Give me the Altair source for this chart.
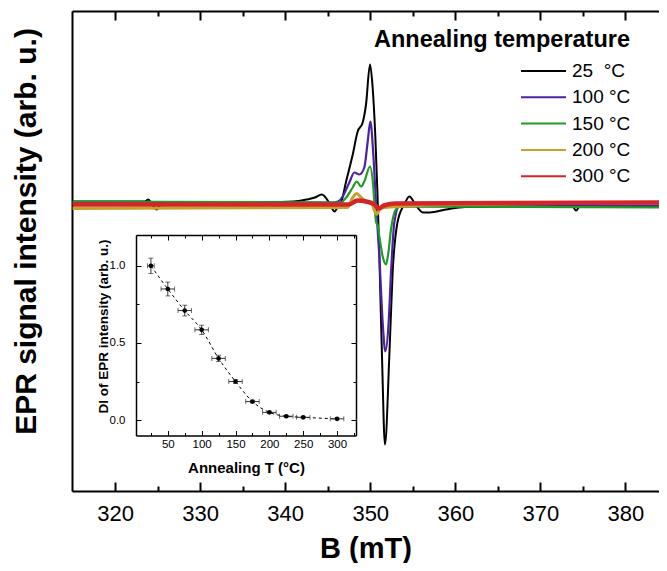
import altair as alt
import pandas as pd

FONT = "Liberation Sans"

# ---------------- main EPR spectra: B (mT) and intensity (arb. u.) ----------------
B_25 = [315.0, 323.5, 323.9, 324.3, 324.9, 325.4, 335.0, 341.0, 342.5, 343.5, 344.3, 345.0,
        345.5, 345.8, 346.2, 346.6, 347.16, 347.94, 348.52, 349.11, 349.5, 349.97, 350.28,
        350.6, 350.85, 351.07, 351.38, 351.73, 352.24, 352.63, 353.2, 354.0, 354.6, 355.3,
        356.2, 357.0, 358.9, 361.2, 373.8, 374.2, 374.6, 385.0]
I_25 = [0.03, 0.03, 0.05, 0.01, -0.05, 0.0, 0.02, 0.03, 0.05, 0.07, 0.10, 0.04,
        -0.04, -0.07, -0.02, 0.03, 0.23, 0.50, 0.73, 0.82, 1.00, 1.40, 1.17,
        0.67, 0.10, -0.52, -1.52, -2.40, -1.52, -0.68, -0.18, 0.0, 0.08, 0.0,
        -0.08, -0.08, -0.05, -0.025, -0.025, -0.06, -0.025, -0.02]

B_100 = [315.0, 345.6, 346.2, 346.76, 347.54, 348.13, 348.72, 349.3, 349.7, 350.01, 350.36,
         350.68, 351.07, 351.46, 351.77, 352.16, 352.44, 352.83, 353.4, 385.0]
I_100 = [0.02, 0.02, 0.03, 0.08, 0.22, 0.32, 0.30, 0.37, 0.63, 0.83, 0.50,
         0.0, -0.52, -1.18, -1.47, -1.18, -0.68, -0.18, -0.02, -0.01]

B_150 = [315.0, 346.5, 347.16, 347.94, 348.4, 348.92, 349.3, 349.97, 350.36, 350.55, 350.7,
         350.85, 351.07, 351.46, 351.85, 352.1, 352.44, 353.0, 353.6, 385.0]
I_150 = [0.03, 0.02, 0.07, 0.17, 0.23, 0.18, 0.23, 0.38, 0.17, -0.06, -0.18,
         -0.20, -0.32, -0.52, -0.60, -0.50, -0.25, -0.05, -0.02, -0.03]

B_200 = [315.0, 347.3, 347.94, 348.4, 348.92, 349.5, 350.2, 350.5, 350.75, 351.1, 351.6, 360.0, 385.0]
I_200 = [-0.04, -0.03, 0.07, 0.11, 0.07, 0.03, 0.0, -0.06, -0.10, -0.05, -0.03, 0.0, 0.02]

B_300 = [315.0, 347.5, 348.5, 349.5, 350.5, 351.0, 351.6, 353.0, 385.0]
I_300 = [0.0, 0.0, 0.04, 0.03, 0.0, -0.04, -0.01, 0.01, 0.02]

series_labels = ["\u00a025\u00a0\u00a0°C", "100\u00a0°C", "150\u00a0°C", "200\u00a0°C", "300\u00a0°C"]
series_colors = ["#000000", "#4b22a6", "#1f9a2b", "#c9a128", "#d3262a"]
series_widths = [2.0, 2.2, 2.2, 3.0, 4.5]

main_ticks_major = [320, 330, 340, 350, 360, 370, 380]
main_ticks_all = [320, 325, 330, 335, 340, 345, 350, 355, 360, 365, 370, 375, 380]

# ---------------- inset: DI of EPR intensity vs annealing T ----------------
anneal_T = [25, 50, 75, 100, 125, 150, 175, 200, 225, 250, 300]
DI = [1.0, 0.85, 0.71, 0.585, 0.40, 0.25, 0.12, 0.05, 0.025, 0.018, 0.008]
T_err = [5, 10, 10, 10, 10, 10, 10, 10, 10, 10, 10]
DI_err = [0.05, 0.045, 0.035, 0.03, 0.02, 0.012, 0.008, 0.006, 0.005, 0.005, 0.005]

in_x_major = [50, 100, 150, 200, 250, 300]
in_x_all = [25, 50, 75, 100, 125, 150, 175, 200, 225, 250, 275, 300, 325]
in_y_major = [0.0, 0.5, 1.0]
in_y_all = [0.0, 0.25, 0.5, 0.75, 1.0]

# ---------------- build tables ----------------
rows = []
for lab, Bs, Is in zip(series_labels, [B_25, B_100, B_150, B_200, B_300],
                       [I_25, I_100, I_150, I_200, I_300]):
    for b, v in zip(Bs, Is):
        rows.append({"series": lab, "B": b, "I": v})
spec_df = pd.DataFrame(rows)

inset_df = pd.DataFrame({
    "T": anneal_T, "DI": DI,
    "T_lo": [t - e for t, e in zip(anneal_T, T_err)],
    "T_hi": [t + e for t, e in zip(anneal_T, T_err)],
    "DI_lo": [d - e for d, e in zip(DI, DI_err)],
    "DI_hi": [d + e for d, e in zip(DI, DI_err)],
})

W, H = 587, 480

main_x = alt.Scale(domain=[314.93, 383.95], nice=False, zero=False)
main_y = alt.Scale(domain=[-2.865, 1.935], nice=False, zero=False)

legend = alt.Legend(
    title="Annealing temperature", orient="none", legendX=302, legendY=17, padding=0,
    titleFontSize=23.5, titleFontWeight="bold", titleColor="black", titleFont=FONT,
    titleAnchor="end", titleAlign="right", titleBaseline="top", titlePadding=9.5, titleLimit=600,
    labelFontSize=19, labelFont=FONT, labelColor="black", labelLimit=300, labelOffset=5,
    symbolType="stroke", symbolSize=2025, symbolStrokeWidth=2, clipHeight=20, rowPadding=6.3,
    direction="vertical",
)
color_enc = alt.Color("series:N", scale=alt.Scale(domain=series_labels, range=series_colors),
                      legend=legend)

cond_main = {"condition": {"test": "datum.value % 10 === 0", "value": 9}, "value": 5}

ax_main_bottom = alt.Axis(orient="bottom", values=main_ticks_major, ticks=False, tickSize=0,
                          domain=True, domainColor="black", domainWidth=2, grid=False,
                          labelFontSize=22, labelColor="black", labelPadding=12, labelFont=FONT,
                          title="B (mT)", titleFontSize=29, titleFontWeight="bold",
                          titleColor="black", titleFont=FONT, titleBaseline="alphabetic", titleY=66)
ax_main_inbottom = alt.Axis(orient="top", offset=-H, values=main_ticks_all, domain=False,
                            labels=False, grid=False, ticks=True, tickSize=cond_main,
                            tickWidth=2, tickColor="black", title=None)
ax_main_top = alt.Axis(orient="bottom", offset=-H, values=main_ticks_all, domain=True,
                       domainWidth=2, domainColor="black", labels=False, grid=False, ticks=True,
                       tickSize=cond_main, tickWidth=2, tickColor="black", title=None)
ax_main_left = alt.Axis(orient="left", domain=True, domainWidth=2, domainColor="black",
                        ticks=False, labels=False, grid=False,
                        title="EPR signal intensity (arb. u.)", titleFontSize=30,
                        titleFontWeight="bold", titleColor="black", titleFont=FONT,
                        titleAngle=270, titleX=-36.5, titleY=220, titleAlign="center",
                        titleBaseline="alphabetic")

main_axes = [(ax_main_bottom, ax_main_left), (ax_main_inbottom, None), (ax_main_top, None),
             (None, None), (None, None)]

layers = []
for i, lab in enumerate(series_labels):
    xa, ya = main_axes[i]
    layers.append(
        alt.Chart(spec_df).transform_filter(alt.datum.series == lab)
        .mark_line(clip=True, strokeWidth=series_widths[i], interpolate="monotone")
        .encode(x=alt.X("B:Q", scale=main_x, axis=xa),
                y=alt.Y("I:Q", scale=main_y, axis=ya),
                color=color_enc)
    )

# ---------------- inset ----------------
IX = alt.Scale(domain=[3, 328], range=[64, 284], nice=False, zero=False)
IY = alt.Scale(domain=[-0.1, 1.2], range=[424.5, 224], nice=False, zero=False)
cond_ix = {"condition": {"test": "datum.value % 50 === 0", "value": 5}, "value": 3}
cond_iy = {"condition": {"test": "datum.value % 0.5 === 0", "value": 5}, "value": 3}

ax_in_bottom = alt.Axis(orient="bottom", offset=424.5 - H, values=in_x_major, ticks=False,
                        tickSize=0, domain=True, domainWidth=1.5, domainColor="black", grid=False,
                        labelFontSize=11.5, labelPadding=3, labelColor="black", labelFont=FONT,
                        title="Annealing T (°C)", titleFontSize=15, titleFontWeight="bold",
                        titleColor="black", titleFont=FONT, titleBaseline="alphabetic", titleY=37)
ax_in_inbottom = alt.Axis(orient="top", offset=-424.5, values=in_x_all, domain=False,
                          labels=False, ticks=True, tickSize=cond_ix, tickWidth=1,
                          tickColor="black", grid=False, title=None)
ax_in_top = alt.Axis(orient="bottom", offset=224 - H, values=in_x_all, domain=True,
                     domainWidth=1.5, domainColor="black", labels=False, ticks=True,
                     tickSize=cond_ix, tickWidth=1, tickColor="black", grid=False, title=None)
ax_in_left = alt.Axis(orient="left", offset=-64, values=in_y_major, format=".1f", ticks=False,
                      tickSize=0, domain=True, domainWidth=1.5, domainColor="black", grid=False,
                      labelFontSize=11.5, labelPadding=11, labelColor="black", labelFont=FONT,
                      title="DI of EPR intensity (arb. u.)", titleFontSize=13.5,
                      titleFontWeight="bold", titleColor="black", titleFont=FONT,
                      titleAngle=270, titleBaseline="alphabetic", titleX=-29, titleY=315,
                      titleAlign="center")
ax_in_inleft = alt.Axis(orient="right", offset=64 - W, values=in_y_all, domain=False,
                        labels=False, ticks=True, tickSize=cond_iy, tickWidth=1,
                        tickColor="black", grid=False, title=None)
ax_in_right = alt.Axis(orient="left", offset=-284, values=in_y_all, domain=True,
                       domainWidth=1.5, domainColor="black", labels=False, ticks=True,
                       tickSize=cond_iy, tickWidth=1, tickColor="black", grid=False, title=None)

inset_line = alt.Chart(inset_df).mark_line(strokeDash=[3, 3], color="black", strokeWidth=1,
                                           interpolate="monotone").encode(
    x=alt.X("T:Q", scale=IX, axis=ax_in_bottom),
    y=alt.Y("DI:Q", scale=IY, axis=ax_in_left))
inset_xerr = alt.Chart(inset_df).mark_rule(color="#333333", strokeWidth=1).encode(
    x=alt.X("T_lo:Q", scale=IX, axis=ax_in_inbottom), x2="T_hi:Q",
    y=alt.Y("DI:Q", scale=IY, axis=ax_in_inleft))
inset_yerr = alt.Chart(inset_df).mark_rule(color="#333333", strokeWidth=1).encode(
    x=alt.X("T:Q", scale=IX, axis=ax_in_top),
    y=alt.Y("DI_lo:Q", scale=IY, axis=ax_in_right), y2="DI_hi:Q")
inset_xcap = alt.Chart(inset_df).transform_fold(["T_lo", "T_hi"], as_=["end", "Tv"]).mark_tick(
    orient="vertical", size=5, thickness=1, color="#333333").encode(
    x=alt.X("Tv:Q", scale=IX, axis=None), y=alt.Y("DI:Q", scale=IY, axis=None))
inset_ycap = alt.Chart(inset_df).transform_fold(["DI_lo", "DI_hi"], as_=["end", "Dv"]).mark_tick(
    orient="horizontal", size=5, thickness=1, color="#333333").encode(
    x=alt.X("T:Q", scale=IX, axis=None), y=alt.Y("Dv:Q", scale=IY, axis=None))
inset_pts = alt.Chart(inset_df).mark_circle(size=22, color="black", opacity=1).encode(
    x=alt.X("T:Q", scale=IX, axis=None), y=alt.Y("DI:Q", scale=IY, axis=None))

layers += [inset_line, inset_xerr, inset_yerr, inset_xcap, inset_ycap, inset_pts]

chart = (
    alt.layer(*layers)
    .resolve_scale(x="independent", y="independent", color="shared")
    .resolve_axis(x="independent", y="independent")
    .properties(width=W, height=H,
                padding={"left": 64, "top": 3, "right": 0, "bottom": 72},
                autosize=alt.AutoSizeParams(type="none"))
    .configure_view(stroke=None)
    .configure(font=FONT)
)

chart.save("out.html", embed_options={"renderer": "svg", "actions": False})
